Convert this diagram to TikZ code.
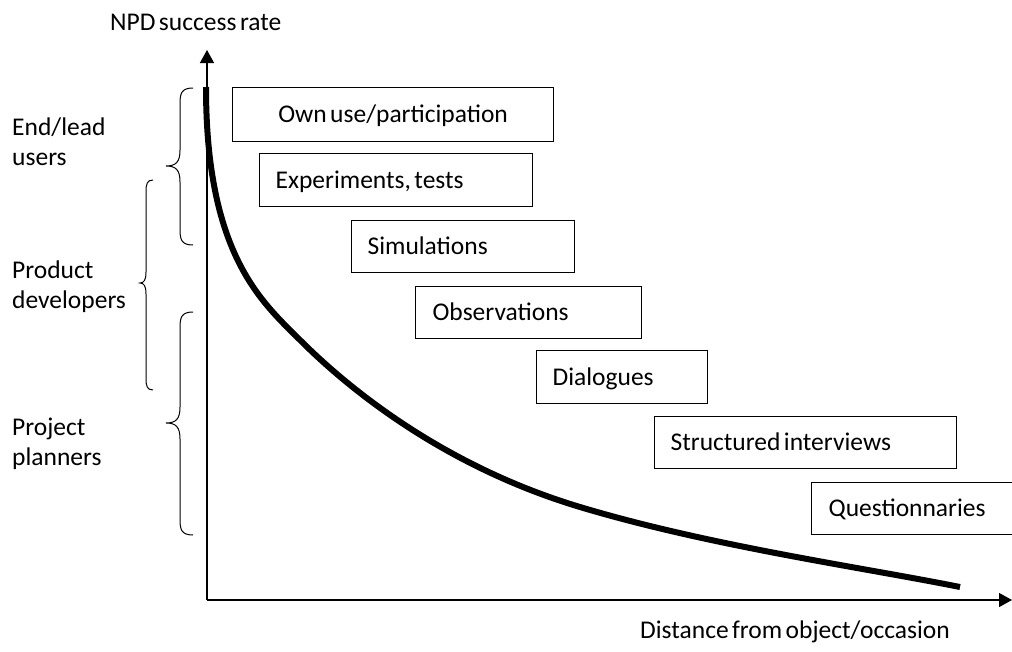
\documentclass[tikz,border=0pt]{standalone}
\usepackage{fontspec}
\setmainfont{Carlito}[WordSpace={0.6,0,0}]
\usetikzlibrary{arrows.meta}
\begin{document}
\begin{tikzpicture}[x=1pt,y=-1pt,
  every node/.style={font=\fontsize{25.5}{30}\selectfont, inner sep=0pt},
  method/.style={draw, line width=1.2pt, align=left, text height=16pt, text depth=0pt,
    execute at begin node={\spaceskip=0pt\xspaceskip=0pt}},
  axis/.style={line width=1.4pt, -{Triangle[length=13pt,width=14pt]}},
  bracket/.style={line width=1pt},
  curve/.style={line width=6pt}]
\useasboundingbox (0,0) rectangle (1012,651);

% axes
\coordinate (O) at (207,600);
\coordinate (ytip) at (207,50);
\coordinate (xtip) at (1012,600);
\draw[axis] (O) -- (ytip);
\draw[axis] (O) -- (xtip);

\node[anchor=base west] (ylab) at (110,30) {NPD success rate};
\node[anchor=base west] (xlab) at (640,638) {Distance from object/occasion};

% success-rate curve
\draw[curve] (206,87) .. controls (206,255) and (262,302) .. (300,340)
  .. controls (334,374) and (430,462) .. (580,507)
  .. controls (710,546) and (860,567) .. (960,587);

% methods
\node[method, anchor=north west, minimum width=321pt, minimum height=54pt,
      text width=280pt, align=center] (own) at (232,87) {Own use/participation};
\node[method, anchor=north west, minimum width=273pt, minimum height=53pt,
      inner xsep=16pt, text width=241pt] (exp) at (259,153) {Experiments, tests};
\node[method, anchor=north west, minimum width=223pt, minimum height=52pt,
      inner xsep=16pt, text width=191pt] (sim) at (351,220) {Simulations};
\node[method, anchor=north west, minimum width=226pt, minimum height=52pt,
      inner xsep=17pt, text width=192pt] (obs) at (415,286) {Observations};
\node[method, anchor=north west, minimum width=171pt, minimum height=53pt,
      inner xsep=16pt, text width=139pt] (dia) at (536,350) {Dialogues};
\node[method, anchor=north west, minimum width=302pt, minimum height=52pt,
      inner xsep=16pt, text width=270pt] (int) at (654,416) {Structured interviews};
\node[method, anchor=north west, minimum width=220pt, minimum height=52pt,
      inner xsep=17pt, text width=186pt] (que) at (811,482) {Questionnaries};

% user groups
\node[anchor=base west, align=left] (users) at (12,165) {End/lead\\users};
\node[anchor=base west, align=left] (devs) at (12,308) {Product\\developers};
\node[anchor=base west, align=left] (plan) at (12,465) {Project\\planners};

% braces
\draw[bracket] (193,88) .. controls (181,88) and (180,94) .. (180,104)
  -- (180,150) .. controls (180,162) and (176,166) .. (166,166)
  .. controls (176,166) and (180,170) .. (180,182)
  -- (180,229) .. controls (180,239) and (181,245) .. (193,245);
\draw[bracket] (153,180) .. controls (147,180) and (146,184) .. (146,192)
  -- (146,272) .. controls (146,280) and (144,283) .. (140,283)
  .. controls (144,283) and (146,286) .. (146,294)
  -- (146,378) .. controls (146,386) and (147,390) .. (153,390);
\draw[bracket] (193,312) .. controls (181,312) and (180,318) .. (180,328)
  -- (180,407) .. controls (180,419) and (176,423) .. (166,423)
  .. controls (176,423) and (180,427) .. (180,439)
  -- (180,519) .. controls (180,529) and (181,535) .. (193,535);
\end{tikzpicture}
\end{document}
